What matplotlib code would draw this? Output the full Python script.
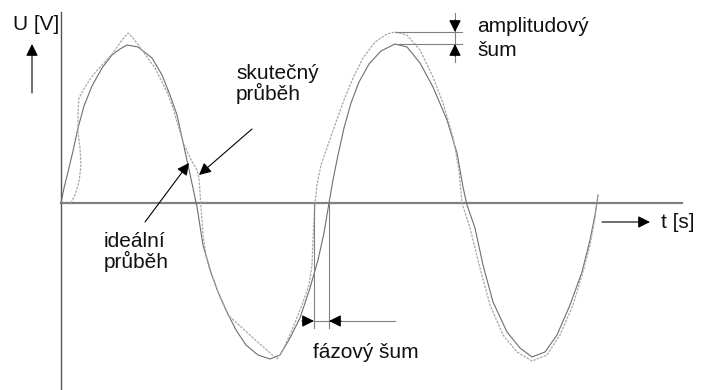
import matplotlib.pyplot as plt

# sketch coordinates (pixels, y grows downwards)
ideal_x = [61, 64, 68, 73, 78, 84, 92, 102, 112, 120,
           127, 138, 152, 162, 170, 177, 183, 188, 193, 197,
           203, 210, 218, 227, 236, 246, 258, 270, 280, 290,
           300, 310, 318, 324, 329, 333, 338, 344, 351, 359,
           369, 381, 395, 407, 420, 433, 447, 457, 463, 467,
           475, 483, 493, 507, 520, 532, 545, 557, 570, 582,
           590, 595, 598]
ideal_y = [203, 188, 172, 151, 128, 106, 86, 68, 55, 49,
           45, 47, 58, 75, 95, 115, 142, 165, 188, 207,
           245, 270, 292, 312, 330, 345, 355, 359, 355, 338,
           318, 288, 260, 233, 203, 180, 155, 128, 103, 82,
           64, 51, 44, 47, 63, 87, 120, 153, 187, 205,
           228, 265, 302, 332, 348, 357, 352, 335, 305, 272,
           240, 215, 195]

real_x = [71, 75, 79, 81, 80, 78, 78, 79, 85, 93,
          102, 113, 122, 128, 133, 142, 155, 167, 173, 177,
          183, 190, 197, 199, 200, 201, 202, 203, 206, 212,
          220, 228, 252, 277, 283, 292, 302, 309, 312, 313,
          314, 315, 317, 321, 328, 336, 344, 353, 363, 375,
          387, 395, 407, 420, 433, 443, 453, 459, 462, 470,
          480, 490, 503, 517, 532, 547, 560, 573, 583, 590,
          595, 598]
real_y = [203, 195, 182, 165, 148, 132, 112, 98, 87, 75,
          65, 53, 40, 33, 38, 50, 68, 92, 108, 122,
          142, 158, 170, 178, 192, 208, 220, 235, 255, 275,
          297, 315, 337, 359, 350, 330, 305, 285, 265, 240,
          220, 203, 185, 165, 145, 122, 100, 78, 58, 42,
          34, 32, 35, 50, 77, 103, 137, 170, 203, 228,
          268, 305, 335, 352, 361, 355, 335, 305, 272, 245,
          218, 195]

fig = plt.figure(figsize=(7.03, 3.9), dpi=100)
ax = fig.add_axes([0, 0, 1, 1])
ax.set_xlim(0, 703)
ax.set_ylim(390, 0)
ax.axis('off')

plt.rcParams['font.family'] = ['Liberation Sans', 'DejaVu Sans']
fs = 15
txt = '#111111'
grey = '#808080'
head = dict(arrowstyle='-|>,head_length=0.6,head_width=0.3', color='black',
            lw=0.8, mutation_scale=12, shrinkA=0, shrinkB=0)

# axes
ax.plot([61, 61], [12, 390], color='#555555', lw=1.0)
ax.plot([61, 682], [203, 203], color=grey, lw=1.6)

# signals
ax.plot(ideal_x, ideal_y, color='#6e6e6e', lw=0.8, solid_joinstyle='round')
ax.plot(real_x, real_y, color='#a8a8a8', lw=0.9, linestyle=(0, (2, 1)))

# U [V] label and arrow
ax.text(13, 25, 'U [V]', fontsize=fs, color=txt, va='center', ha='left')
ax.annotate('', xy=(32, 44), xytext=(32, 93), arrowprops=head)

# t [s] label and arrow
ax.annotate('', xy=(650, 222), xytext=(602, 222), arrowprops=head)
ax.text(661, 222, 't [s]', fontsize=fs, color=txt, va='center', ha='left')

# labels of curves
ax.text(236, 84, 'skutečný\nprůběh', fontsize=fs, color=txt, va='center',
        ha='left', linespacing=1.0)
ax.annotate('', xy=(199, 175), xytext=(252, 129), arrowprops=head)
ax.text(104, 252, 'ideální\nprůběh', fontsize=fs, color=txt, va='center',
        ha='left', linespacing=1.0)
ax.annotate('', xy=(189, 163), xytext=(145, 222), arrowprops=head)

# amplitude noise
ax.plot([395, 462], [32, 32], color=grey, lw=0.8)
ax.plot([395, 462], [44, 44], color=grey, lw=0.8)
ax.plot([455, 455], [13, 62], color=grey, lw=0.8)
ax.annotate('', xy=(455, 32), xytext=(455, 20), arrowprops=head)
ax.annotate('', xy=(455, 44), xytext=(455, 56), arrowprops=head)
ax.text(477, 27, 'amplitudový', fontsize=fs, color=txt, va='center', ha='left')
ax.text(477, 50, 'šum', fontsize=fs, color=txt, va='center', ha='left')

# phase noise
ax.plot([314, 314], [203, 328], color=grey, lw=0.8)
ax.plot([329, 329], [203, 328], color=grey, lw=0.8)
ax.plot([314, 395], [321, 321], color=grey, lw=0.8)
ax.annotate('', xy=(314, 321), xytext=(302, 321), arrowprops=head)
ax.annotate('', xy=(329, 321), xytext=(341, 321), arrowprops=head)
ax.text(313, 352, 'fázový šum', fontsize=fs, color=txt, va='center', ha='left')

plt.savefig('out.png', dpi=100)
